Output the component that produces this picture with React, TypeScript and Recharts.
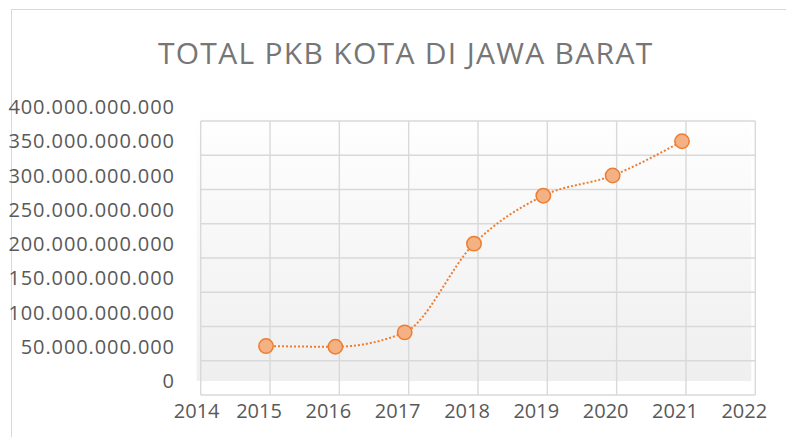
import React from "react";
import {
  LineChart,
  Line,
  XAxis,
  YAxis,
  CartesianGrid,
} from "recharts";

const TITLE = "TOTAL PKB KOTA DI JAWA BARAT";

const YEARS = [2015, 2016, 2017, 2018, 2019, 2020, 2021];
// total PKB, in rupiah
const TOTALS = [
  51_000_000_000, 50_000_000_000, 71_000_000_000, 200_500_000_000,
  270_500_000_000, 300_000_000_000, 350_000_000_000,
];

const X_TICKS = [2014, 2015, 2016, 2017, 2018, 2019, 2020, 2021, 2022];
const Y_TICKS = [
  0, 50_000_000_000, 100_000_000_000, 150_000_000_000, 200_000_000_000,
  250_000_000_000, 300_000_000_000, 350_000_000_000, 400_000_000_000,
];

const data = YEARS.map((year, i) => ({ year, total: TOTALS[i] }));

const W = 786;
const H = 429;
const FONT = "'Open Sans', sans-serif";
const LABEL = "#595959";
const GRID = "#d9d9d9";
const ORANGE = "#ed7d31";

// plot area (shared by every layer)
const PLOT_MARGIN = { top: 99, right: 42.7, bottom: 56, left: 188.7 };

const fmt = (v: number) => String(v).replace(/\B(?=(\d{3})+(?!\d))/g, ".");

function YTick(props: any) {
  const { x, y, payload } = props;
  return (
    <text
      x={x - 21.8}
      y={y}
      dy={7}
      textAnchor="end"
      fontFamily={FONT}
      fontSize={20}
      letterSpacing={0.9}
      fill={LABEL}
    >
      {fmt(payload.value)}
    </text>
  );
}

function XTick(props: any) {
  const { x, y, payload } = props;
  const shift = payload.value === X_TICKS[0] ? 0 : -7;
  return (
    <text
      x={x + shift}
      y={y}
      dy={36.7}
      textAnchor="middle"
      fontFamily={FONT}
      fontSize={20}
      fill={LABEL}
    >
      {payload.value}
    </text>
  );
}

// labelled = real tick labels; otherwise the axes only feed scales/ticks to the grid
function Axes({ labelled }: { labelled: boolean }) {
  return (
    <>
      <XAxis
        dataKey="year"
        type="number"
        domain={[2014, 2022]}
        ticks={X_TICKS}
        hide={!labelled}
        height={30}
        axisLine={false}
        tickLine={false}
        tickSize={0}
        tickMargin={0}
        tick={<XTick />}
        interval={0}
      />
      <YAxis
        type="number"
        domain={[0, 400_000_000_000]}
        ticks={Y_TICKS}
        hide={!labelled}
        width={188.7}
        axisLine={false}
        tickLine={false}
        tickSize={0}
        tickMargin={0}
        tick={<YTick />}
        interval={0}
      />
    </>
  );
}

// invisible copy of the series so the unlabelled layers get the same y scale
const Ghost = () => (
  <Line dataKey="total" stroke="none" dot={false} activeDot={false} isAnimationActive={false} />
);

const layer = (left: number, top: number): React.CSSProperties => ({
  position: "absolute",
  left,
  top,
});

export default function App() {
  return (
    <div style={{ position: "relative", width: W, height: H, overflow: "hidden" }}>
      <div
        style={{
          position: "absolute",
          left: 2.5,
          top: 0.5,
          width: 900,
          height: 600,
          borderTop: `1.5px solid ${GRID}`,
          borderLeft: `1.5px solid ${GRID}`,
        }}
      />

      <svg width={W} height={80} style={layer(0, 0)}>
        <text
          x={397.7}
          y={56}
          textAnchor="middle"
          fontFamily={FONT}
          fontSize={30}
          letterSpacing={1.3}
          fill="#767676"
        >
          {TITLE}
        </text>
      </svg>

      {/* plot background */}
      <div style={layer(0, 0)}>
        <LineChart width={W} height={H} data={data} margin={PLOT_MARGIN}>
          <defs>
            <linearGradient id="plotBg" x1="0" y1="0" x2="0" y2="1">
              <stop offset="0%" stopColor="#ffffff" />
              <stop offset="100%" stopColor="#efefef" />
            </linearGradient>
          </defs>
          <Axes labelled={false} />
          <CartesianGrid fill="url(#plotBg)" stroke="none" />
          <Ghost />
        </LineChart>
      </div>

      {/* grid sits a little lower/right than the plot, as in the source */}
      <div style={layer(3.5, 14)}>
        <LineChart width={W} height={H} data={data} margin={PLOT_MARGIN}>
          <Axes labelled={false} />
          <CartesianGrid stroke={GRID} strokeWidth={1.4} />
          <Ghost />
        </LineChart>
      </div>

      <div style={layer(0, 0)}>
        <LineChart
          width={W}
          height={H}
          data={data}
          margin={{ top: 99, right: 42.7, bottom: 26, left: 0 }}
        >
          <Axes labelled={true} />
          <Line
            dataKey="total"
            type="monotone"
            stroke={ORANGE}
            strokeWidth={2}
            strokeDasharray="2 2"
            dot={{ r: 7.2, fill: "#f4b183", stroke: ORANGE, strokeWidth: 1.5, strokeDasharray: "0" }}
            activeDot={false}
            isAnimationActive={false}
          />
        </LineChart>
      </div>
    </div>
  );
}
